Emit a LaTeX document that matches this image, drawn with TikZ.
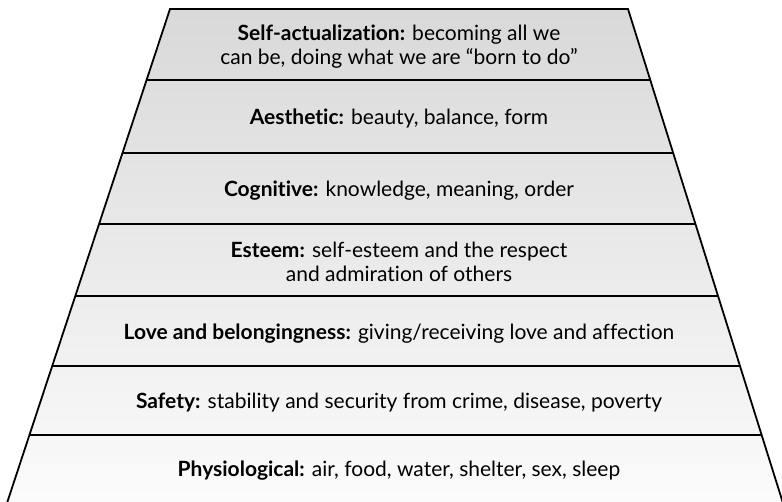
\documentclass[tikz,border=0pt]{standalone}
\usepackage{fontspec}
\setmainfont{Lato}[Ligatures={NoCommon}]
\begin{document}
\begin{tikzpicture}[x=1pt,y=-1pt,
  lbl/.style={align=center,font=\fontsize{21}{24}\selectfont,inner sep=0pt},
  edge/.style={line width=1.8pt,line join=miter},
  divider/.style={line width=1.8pt}]
\useasboundingbox (0,0) rectangle (782,501);
\clip (0,0) rectangle (782,501);
% trapezoid
\coordinate (TL) at (170,9);
\coordinate (TR) at (628,9);
\coordinate (BR) at (788.3,520);
\coordinate (BL) at (1.4,520);
\shade[top color=black!15,bottom color=black!1] (TL) -- (TR) -- (BR) -- (BL) -- cycle;
\foreach \yy in {80,153,224,296,366,435}{
  \draw[divider] ({170-0.33*(\yy-9)},\yy) -- ({628+0.3136*(\yy-9)},\yy);
}
\draw[edge] (BL) -- (TL) -- (TR) -- (BR);
% labels
\node[lbl] (n1) at (399,47) {\textbf{Self-actualization:} becoming all we\\can be, doing what we are “born to do”};
\node[lbl] (n2) at (399,118.5) {\textbf{Aesthetic:} beauty, balance, form};
\node[lbl] (n3) at (399,190.5) {\textbf{Cognitive:} knowledge, meaning, order};
\node[lbl] (n4) at (399,262) {\textbf{Esteem:} self-esteem and the respect\\and admiration of others};
\node[lbl] (n5) at (399,333.5) {\textbf{Love and belongingness:} giving/receiving love and affection};
\node[lbl] (n6) at (399,402.5) {\textbf{Safety:} stability and security from crime, disease, poverty};
\node[lbl] (n7) at (399,470.5) {\textbf{Physiological:} air, food, water, shelter, sex, sleep};
\end{tikzpicture}
\end{document}
